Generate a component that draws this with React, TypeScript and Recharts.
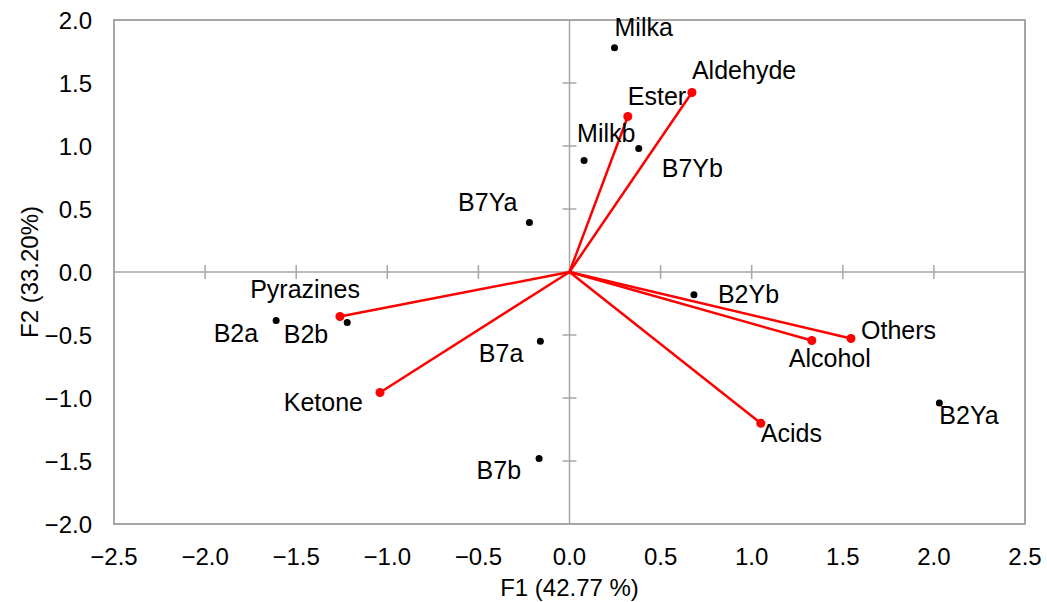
import React from 'react'
import {
    ScatterChart, Scatter, XAxis, YAxis, ReferenceLine,
    ReferenceArea, ReferenceDot,
} from 'recharts'

// samples (black dots)
const sampleNames = ['Milka', 'Milkb', 'B7Yb', 'B7Ya', 'B2Yb', 'B2a', 'B2b', 'B7a', 'B7b', 'B2Ya']
const sampleF1 = [0.247, 0.08, 0.38, -0.22, 0.683, -1.61, -1.22, -0.16, -0.167, 2.03]
const sampleF2 = [1.78, 0.885, 0.98, 0.393, -0.18, -0.385, -0.40, -0.55, -1.48, -1.04]

// variables (red vectors)
const varNames = ['Aldehyde', 'Ester', 'Pyrazines', 'Ketone', 'Acids', 'Alcohol', 'Others']
const varF1 = [0.672, 0.32, -1.26, -1.04, 1.05, 1.33, 1.545]
const varF2 = [1.425, 1.234, -0.353, -0.956, -1.20, -0.544, -0.528]

const xTicks = [-2.5, -2, -1.5, -1, -0.5, 0, 0.5, 1, 1.5, 2, 2.5]
const yTicks = [-2, -1.5, -1, -0.5, 0, 0.5, 1, 1.5, 2]

const FONT = '"Liberation Sans", Arial, sans-serif'
const GRAY = '#a6a6a6'

// where each label sits relative to its dot
const LABEL_POS: Record<string, { dx: number; dy: number; anchor: 'start' | 'end' }> = {
    Milka:     { dx: 0,   dy: -12, anchor: 'start' },
    Milkb:     { dx: -7,  dy: -18, anchor: 'start' },
    B7Yb:      { dx: 23,  dy: 28,  anchor: 'start' },
    B7Ya:      { dx: -12, dy: -11, anchor: 'end' },
    B2Yb:      { dx: 24,  dy: 8,   anchor: 'start' },
    B2a:       { dx: -18, dy: 21,  anchor: 'end' },
    B2b:       { dx: -19, dy: 21,  anchor: 'end' },
    B7a:       { dx: -17, dy: 21,  anchor: 'end' },
    B7b:       { dx: -18, dy: 21,  anchor: 'end' },
    B2Ya:      { dx: 0,   dy: 21,  anchor: 'start' },
    Aldehyde:  { dx: 0,   dy: -13, anchor: 'start' },
    Ester:     { dx: 0,   dy: -12, anchor: 'start' },
    Pyrazines: { dx: 20,  dy: -18, anchor: 'end' },
    Ketone:    { dx: -17, dy: 19,  anchor: 'end' },
    Acids:     { dx: 0,   dy: 19,  anchor: 'start' },
    Alcohol:   { dx: -23, dy: 26,  anchor: 'start' },
    Others:    { dx: 10,  dy: 0,   anchor: 'start' },
}

const samples = sampleNames.map((name, i) => ({ name, x: sampleF1[i], y: sampleF2[i] }))
const variables = varNames.map((name, i) => ({ name, x: varF1[i], y: varF2[i] }))

const fmt = (v: number) => v.toFixed(1).replace('-', '\u2212')

function labelledDot(color: string, r: number) {
    return (props: any) => {
        const { cx, cy, payload } = props
        const pos = LABEL_POS[payload.name]
        return (
            <g>
                <circle cx={cx} cy={cy} r={r} fill={color} />
                <text
                    x={cx + pos.dx} y={cy + pos.dy}
                    textAnchor={pos.anchor}
                    fontFamily={FONT} fontSize={25} fill="#000"
                >
                    {payload.name}
                </text>
            </g>
        )
    }
}

const vTick = (props: any) => (
    <line x1={props.cx} x2={props.cx} y1={props.cy - 7} y2={props.cy + 7} stroke={GRAY} strokeWidth={1.5} />
)
const hTick = (props: any) => (
    <line x1={props.cx - 7} x2={props.cx + 7} y1={props.cy} y2={props.cy} stroke={GRAY} strokeWidth={1.5} />
)

export default function App() {
    const tick = { fontSize: 24, fill: '#000', fontFamily: FONT }
    return (
        <div style={{ position: 'absolute', left: 0, top: 0, background: '#fff' }}>
            <ScatterChart width={1047} height={602} margin={{ top: 20, right: 22, left: 0, bottom: 0 }}>
                <XAxis
                    type="number" dataKey="x" domain={[-2.5, 2.5]} ticks={xTicks}
                    tickFormatter={fmt} tick={tick}
                    axisLine={false} tickLine={false} tickSize={0} tickMargin={24}
                    height={78}
                    label={{ value: 'F1 (42.77 %)', position: 'insideBottom', offset: 6, fontSize: 24, fill: '#000', fontFamily: FONT }}
                />
                <YAxis
                    type="number" dataKey="y" domain={[-2, 2]} ticks={yTicks}
                    tickFormatter={fmt} tick={tick}
                    axisLine={false} tickLine={false} tickSize={0} tickMargin={22}
                    width={114}
                    label={{
                        value: 'F2 (33.20%)', angle: -90, position: 'insideLeft', offset: 29,
                        fontSize: 24, fill: '#000', fontFamily: FONT, style: { textAnchor: 'middle' },
                    }}
                />
                <ReferenceArea x1={-2.5} x2={2.5} y1={-2} y2={2} fill="none" stroke={GRAY} strokeWidth={2} fillOpacity={0} />
                <ReferenceLine x={0} stroke={GRAY} strokeWidth={1.5} />
                <ReferenceLine y={0} stroke={GRAY} strokeWidth={1.5} />
                {xTicks.filter(t => t !== 0).map(t => (
                    <ReferenceDot key={'xt' + t} x={t} y={0} r={0} shape={vTick} />
                ))}
                {yTicks.filter(t => t !== 0).map(t => (
                    <ReferenceDot key={'yt' + t} x={0} y={t} r={0} shape={hTick} />
                ))}
                {variables.map(v => (
                    <ReferenceLine
                        key={'v' + v.name}
                        segment={[{ x: 0, y: 0 }, { x: v.x, y: v.y }]}
                        stroke="#ff0000" strokeWidth={2.5}
                    />
                ))}
                <Scatter data={samples} shape={labelledDot('#000', 3.5)} isAnimationActive={false} />
                <Scatter data={variables} shape={labelledDot('#ff0000', 4.5)} isAnimationActive={false} />
            </ScatterChart>
        </div>
    )
}
